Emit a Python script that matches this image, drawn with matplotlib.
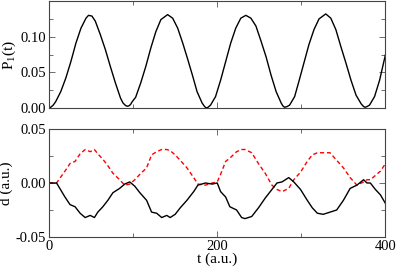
import numpy as np
import matplotlib
matplotlib.use("Agg")
import matplotlib.pyplot as plt
from matplotlib.ticker import MultipleLocator

plt.rcParams['font.family'] = ['Liberation Serif', 'DejaVu Serif']
plt.rcParams['mathtext.fontset'] = 'custom'
plt.rcParams['mathtext.rm'] = 'Liberation Serif'
plt.rcParams['mathtext.it'] = 'Liberation Serif'

# top panel: population P1(t)
t_p = [0, 2, 5, 8, 14, 20, 26, 32, 38, 44, 47, 51, 55, 61, 67, 73, 79, 85, 88, 91, 93, 95,
       97, 99, 103,
       109, 115, 121, 127, 133, 141, 147, 153, 159, 165, 171, 176, 182, 185, 187, 189,
       192, 198,
       204, 210, 216, 222, 228, 234, 240, 246, 252, 258, 264, 270, 276, 278, 280, 283,
       286, 292,
       297, 303, 309, 315, 321, 329, 335, 341, 347, 353, 359, 365, 371, 374, 376, 378,
       381, 387, 393, 400]
p1 = [0.000, 0.001, 0.004, 0.009, 0.023, 0.042, 0.065, 0.091, 0.112, 0.126, 0.130, 0.129,
      0.122, 0.103, 0.082, 0.058, 0.035, 0.014, 0.007, 0.0035, 0.0025, 0.003,
      0.005, 0.009, 0.015,
      0.035, 0.058, 0.084, 0.107, 0.124, 0.131, 0.126, 0.112, 0.091, 0.068, 0.044,
      0.023, 0.007, 0.002, 0.000, 0.001,
      0.004, 0.016,
      0.039, 0.065, 0.091, 0.112, 0.126, 0.130, 0.126, 0.115, 0.094, 0.072, 0.046,
      0.023, 0.007, 0.003, 0.001, 0.002,
      0.004, 0.016,
      0.037, 0.063, 0.089, 0.110, 0.125, 0.132, 0.126, 0.110, 0.086, 0.063, 0.039,
      0.018, 0.006, 0.002, 0.001, 0.002,
      0.004, 0.016, 0.039, 0.075]

# bottom panel: d (black solid) and red dashed
t_d = [0, 9, 19, 25, 31, 37, 43, 49, 54, 58, 64, 70, 76, 84, 90, 96, 102, 108, 116,
       122, 128, 134, 140, 144, 150, 156, 164, 172, 177, 186, 194, 200, 204, 210, 215,
       223, 229, 233, 241, 249, 257, 265, 271, 277, 285, 291, 299, 307, 313, 319, 326,
       334, 342, 350, 358, 366, 374, 378, 382, 388, 394, 400]
d_black = [0.000, 0.000, -0.013, -0.020, -0.022, -0.028, -0.032, -0.030, -0.032, -0.027,
           -0.022, -0.016, -0.009, -0.005, -0.001, 0.001, -0.003, -0.009, -0.016,
           -0.027, -0.028, -0.032, -0.030, -0.032, -0.029, -0.023, -0.016, -0.008,
           -0.002, 0.000, -0.001, 0.000, -0.008, -0.013, -0.022,
           -0.025, -0.032, -0.033, -0.031, -0.023, -0.014, -0.006, 0.000, 0.001,
           0.005, 0.001, -0.006, -0.016, -0.023, -0.028, -0.029,
           -0.027, -0.025, -0.016, -0.005, -0.002, 0.003, 0.000, 0.000, -0.006,
           -0.011, -0.019]
d_red = [0.000, 0.000, 0.011, 0.018, 0.020, 0.027, 0.031, 0.029, 0.031, 0.027,
         0.022, 0.016, 0.009, 0.003, -0.002, -0.001, 0.003, 0.008, 0.014,
         0.026, 0.029, 0.031, 0.031, 0.030, 0.026, 0.021, 0.014, 0.005,
         -0.001, -0.002, 0.000, 0.001, 0.008, 0.020, 0.023,
         0.029, 0.031, 0.031, 0.028, 0.018, 0.009, -0.002, -0.006, -0.008,
         -0.005, 0.003, 0.010, 0.020, 0.026, 0.028, 0.028,
         0.028, 0.021, 0.014, 0.005, -0.002, 0.001, 0.003, 0.003, 0.007,
         0.011, 0.018]

fig = plt.figure(figsize=(3.97, 2.68), dpi=100)
ax1 = fig.add_axes([0.1234, 0.597, 0.8476, 0.399])
ax2 = fig.add_axes([0.1234, 0.1157, 0.8476, 0.403])

ax1.plot(t_p, p1, color='black', lw=1.0)
ax2.plot(t_d, d_red, color='red', lw=1.0, dashes=(3, 2))
ax2.plot(t_d, d_black, color='black', lw=1.0)

ax1.set_xlim(0, 400)
ax1.set_ylim(0, 0.15)
ax1.set_yticks([0, 0.05, 0.10])
ax1.set_yticklabels(['0.00', '0.05', '0.10'])
ax1.yaxis.set_minor_locator(MultipleLocator(0.025))
ax1.set_xticks([0, 200, 400])
ax1.xaxis.set_minor_locator(MultipleLocator(100))
ax1.set_xticklabels([])
ax1.set_ylabel('P$_1$(t)', fontsize=11, labelpad=2)

ax2.set_xlim(0, 400)
ax2.set_ylim(-0.05, 0.05)
ax2.set_yticks([-0.05, 0, 0.05])
ax2.set_yticklabels(['-0.05', '0.00', '0.05'])
ax2.yaxis.set_minor_locator(MultipleLocator(0.025))
ax2.set_xticks([0, 200, 400])
ax2.xaxis.set_minor_locator(MultipleLocator(100))
ax2.set_xlabel('t (a.u.)', fontsize=11, labelpad=0)
ax2.set_ylabel('d (a.u.)', fontsize=11, labelpad=2)

for ax in (ax1, ax2):
    ax.tick_params(which='both', direction='in', top=True, right=True,
                   labelsize=10.5, pad=2, width=0.6, color='#555555')
    ax.tick_params(which='major', length=4)
    ax.tick_params(which='minor', length=3)
    for s in ax.spines.values():
        s.set_linewidth(0.8)
        s.set_color('#444444')

fig.savefig('out.png', dpi=100)
